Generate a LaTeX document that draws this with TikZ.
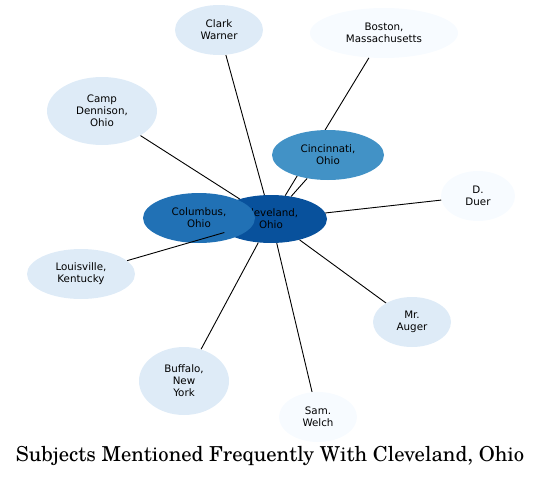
\documentclass[tikz,border=0pt]{standalone}
\usepackage{fontspec}
\newfontfamily\dvsans{DejaVu Sans}
\newfontfamily\schola{texgyreschola-regular.otf}
\usetikzlibrary{shapes.geometric}
\pgfdeclarelayer{bg}
\pgfdeclarelayer{edgelayer}
\pgfsetlayers{bg,edgelayer,main}
\definecolor{cdark}{HTML}{08519C}
\definecolor{cmid}{HTML}{2171B5}
\definecolor{cmed}{HTML}{4292C6}
\definecolor{clight}{HTML}{DEEBF7}
\definecolor{cpale}{HTML}{F7FBFF}
\tikzset{
  ent/.style={ellipse, inner sep=0pt, draw=none, align=center,
    font=\dvsans\fontsize{10.3}{12}\selectfont, text=black},
  link/.style={draw=black, line width=0.9pt}
}
\begin{document}
\begin{tikzpicture}[x=1pt,y=-1pt]
\useasboundingbox (0,0) rectangle (541,477);
\begin{pgfonlayer}{bg}
\node[ent, fill=cdark, minimum width=112pt, minimum height=48pt] (cle) at (271,219) {Cleveland,\\Ohio};
\node[ent, fill=cmid, minimum width=112pt, minimum height=50pt] (col) at (199,218) {Columbus,\\Ohio};
\end{pgfonlayer}
\node[ent, fill=cmed, minimum width=112pt, minimum height=50pt] (cin) at (328,155) {Cincinnati,\\Ohio};
\node[ent, fill=clight, minimum width=88pt, minimum height=50pt] (cla) at (219,30) {Clark\\Warner};
\node[ent, fill=cpale, minimum width=148pt, minimum height=50pt] (bos) at (384,33) {Boston,\\Massachusetts};
\node[ent, fill=clight, minimum width=110pt, minimum height=68pt] (cam) at (102,111) {Camp\\Dennison,\\Ohio};
\node[ent, fill=cpale, minimum width=74pt, minimum height=50pt] (due) at (478,196) {D.\\Duer};
\node[ent, fill=clight, minimum width=108pt, minimum height=50pt] (lou) at (81,274) {Louisville,\\Kentucky};
\node[ent, fill=clight, minimum width=78pt, minimum height=50pt] (aug) at (412,322) {Mr.\\Auger};
\node[ent, fill=clight, minimum width=90pt, minimum height=68pt] (buf) at (184,381) {Buffalo,\\New\\York};
\node[ent, fill=cpale, minimum width=78pt, minimum height=50pt] (wel) at (318,417) {Sam.\\Welch};
\begin{pgfonlayer}{edgelayer}
\draw[link] (cle) -- (cin);
\draw[link] (cle) -- (cla);
\draw[link] (cle) -- (bos);
\draw[link] (cle) -- (cam);
\draw[link] (cle) -- (due);
\draw[link] (cle) -- (lou);
\draw[link] (cle) -- (aug);
\draw[link] (cle) -- (buf);
\draw[link] (cle) -- (wel);
\end{pgfonlayer}
\node[font=\schola\fontsize{20.6}{24}\selectfont] (title) at (270,456) {Subjects Mentioned Frequently With Cleveland, Ohio};
\end{tikzpicture}
\end{document}
